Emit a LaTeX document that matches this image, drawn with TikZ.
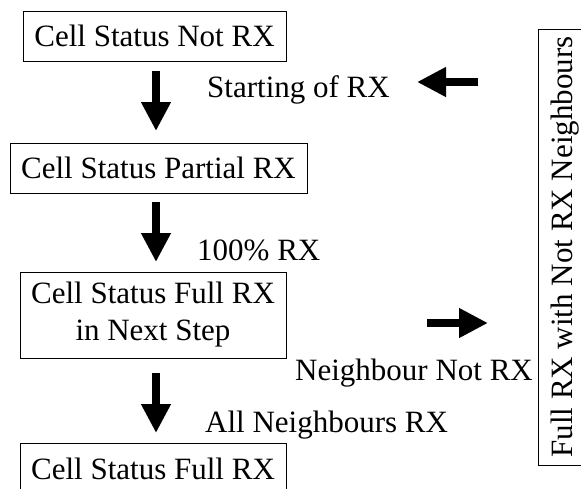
\documentclass[tikz,border=0pt]{standalone}
\usepackage{fontspec}
\setmainfont{Liberation Serif}
\usetikzlibrary{arrows.meta}
\begin{document}
\begin{tikzpicture}[x=1pt,y=-1pt,
  every node/.style={font=\fontsize{31}{37}\selectfont},
  statebox/.style={draw,line width=1pt,inner sep=0pt,align=center},
  lbl/.style={anchor=base west,inner sep=0pt},
  blockarrow/.style={line width=8.5pt,-{Triangle[width=28pt,length=29pt]}}]
\useasboundingbox (0,0) rectangle (581,488);
\node[statebox,minimum width=263,minimum height=50] (b1) at (154.5,36) {Cell Status Not RX};
\node[statebox,minimum width=297,minimum height=50] (b2) at (158.5,168) {Cell Status Partial RX};
\node[statebox,minimum width=266,minimum height=86] (b3) at (153,315) {Cell Status Full RX\\in Next Step};
\node[statebox,minimum width=266,minimum height=52] (b4) at (153,469) {Cell Status Full RX};
\node[statebox,rotate=90,minimum width=436,minimum height=54] (side) at (565,247) {Full RX with Not RX Neighbours};
\node[lbl] (t1) at (207,97) {Starting of RX};
\node[lbl] (t2) at (197,260) {100\% RX};
\node[lbl] (t3) at (295,380) {Neighbour Not RX};
\node[lbl] (t4) at (205,432) {All Neighbours RX};
\coordinate (a1s) at (156,71);  \coordinate (a1e) at (156,131);
\coordinate (a2s) at (156,202); \coordinate (a2e) at (156,262);
\coordinate (a3s) at (156,373); \coordinate (a3e) at (156,433);
\coordinate (l1s) at (478,82);  \coordinate (l1e) at (417,82);
\coordinate (r1s) at (427,323); \coordinate (r1e) at (488,323);
\draw[blockarrow] (a1s) -- (a1e);
\draw[blockarrow] (a2s) -- (a2e);
\draw[blockarrow] (a3s) -- (a3e);
\draw[blockarrow] (l1s) -- (l1e);
\draw[blockarrow] (r1s) -- (r1e);
\end{tikzpicture}
\end{document}
